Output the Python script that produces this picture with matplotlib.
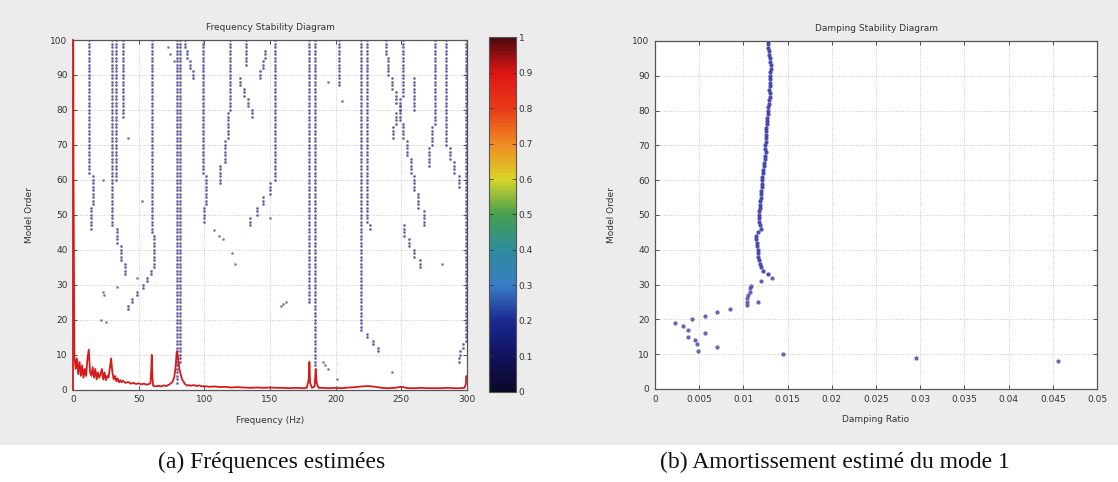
import numpy as np
import matplotlib.pyplot as plt
from matplotlib.cm import ScalarMappable
from matplotlib.colors import Normalize, LinearSegmentedColormap
from matplotlib.patches import Rectangle

# ---- left: frequency stabilisation diagram ----
# each track: segments (order_from, order_to, frequency in Hz)
freq_tracks = [
    [(62, 100, 12.5), (53, 61, 15.5), (46, 52, 13.5)],
    [(47, 100, 29.5)],
    [(60, 100, 32.5), (42, 46, 33.5), (37, 41, 36.5), (33, 36, 39.5)],
    [(78, 100, 38)],
    [(23, 24, 42), (25, 26, 45), (27, 28, 49), (29, 30, 53), (31, 32, 56),
     (33, 34, 59.5), (35, 44, 61.5), (45, 100, 60)],
    [(2, 100, 79.5)],
    [(8, 100, 81.2)],
    [(98, 100, 85), (95, 97, 87), (92, 94, 89), (89, 91, 91.5)],
    [(62, 100, 99), (53, 61, 101.5), (48, 52, 99.5)],
    [(80, 100, 119.5), (72, 79, 118), (65, 71, 115.5), (59, 64, 112)],
    [(87, 89, 127), (84, 86, 130), (81, 83, 133), (78, 80, 136.5)],
    [(93, 100, 132)],
    [(95, 97, 146), (92, 94, 144.5), (89, 91, 142.5)],
    [(60, 100, 153.5), (56, 59, 150), (53, 55, 145), (50, 52, 140), (47, 49, 135)],
    [(25, 100, 180)],
    [(7, 100, 184.5)],
    [(87, 100, 202.5)],
    [(17, 100, 219), (15, 16, 224), (13, 14, 228.5), (11, 12, 232.5)],
    [(48, 100, 223.5), (46, 47, 226)],
    [(96, 100, 238), (90, 95, 240), (86, 89, 243), (82, 85, 246), (77, 81, 249),
     (72, 76, 251), (67, 71, 254), (62, 66, 257), (57, 61, 260), (52, 56, 263),
     (47, 51, 267)],
    [(84, 100, 251.5), (80, 83, 249), (76, 79, 246), (72, 75, 244)],
    [(80, 89, 260)],
    [(44, 47, 252), (41, 43, 256), (38, 40, 260), (35, 37, 264)],
    [(76, 100, 276), (70, 75, 273), (64, 69, 271)],
    [(70, 100, 284), (66, 69, 287), (62, 65, 290), (58, 61, 294)],
    [(14, 100, 299.5), (12, 13, 297), (10, 11, 295), (8, 9, 294)],
]
stray_f = [22.6, 41.7, 23, 23.5, 33.5, 21, 25, 48.5, 52.6, 72, 74, 77, 107, 111,
           114, 121, 123, 150, 158, 160, 162, 190, 192, 194, 201, 243, 281, 205, 194]
stray_o = [60, 72, 28, 27, 29.5, 20, 19.5, 32, 54, 98, 96, 94, 45.6, 44,
           43, 39, 36, 49, 24, 24.5, 25, 8, 7, 6, 3, 5, 36, 82.7, 88]

spec_f = [0, 0.4, 1, 2, 3, 4, 5, 6, 7, 8, 9, 10, 11, 12, 13, 14, 15, 16, 17, 18,
          19, 20, 21, 22, 23, 24, 25, 26, 27, 28, 29, 30, 31, 32, 33, 34, 35, 36,
          37, 38, 40, 42, 44, 46, 48, 50, 52, 54, 56, 58, 59, 59.6, 60, 60.4, 61,
          63, 65, 67, 69, 71, 73, 75, 76, 77, 78, 79, 80, 81, 82, 83, 84, 85, 86,
          87, 88, 90, 92, 94, 96, 98, 100, 104, 108, 112, 116, 120, 125, 130, 135,
          140, 145, 150, 155, 160, 165, 170, 175, 178, 179.5, 180, 180.5, 182, 184,
          184.8, 185.5, 187, 190, 195, 200, 205, 210, 215, 220, 225, 230, 235, 240,
          245, 250, 255, 260, 265, 270, 275, 280, 285, 290, 295, 298, 299, 299.6, 300]
spec_v = [140, 60, 10, 6, 9, 4.5, 8, 4, 7, 3.5, 6, 4, 9, 11.5, 5, 4, 6.5, 3.5, 6, 3,
          5, 3.5, 4.5, 6, 3, 5, 2.8, 4, 3.5, 6, 9, 5, 3, 4, 2.5, 3.3, 2.2, 2.8,
          2.2, 2.6, 2, 2.3, 1.8, 2, 1.7, 1.9, 1.6, 1.8, 1.5, 1.7, 2, 6, 10, 4, 1.2,
          1, 1.2, 1.0, 1.3, 1.1, 1.5, 2, 2.5, 3.5, 6, 11, 9.5, 6, 4.5, 3, 2.5, 1.8, 1.5,
          1.2, 1.4, 1.2, 1.4, 1.1, 1.3, 1.0, 1.1, 0.9, 1.0, 0.8, 0.9, 0.7, 0.8, 0.7, 0.6,
          0.7, 0.6, 0.7, 0.6, 0.6, 0.5, 0.6, 0.5, 0.6, 3, 8, 2, 0.6, 1,
          6, 2, 0.6, 0.6, 0.5, 0.6, 0.5, 0.7, 0.8, 1.0, 1.1, 0.9, 0.6, 0.5,
          0.6, 0.9, 0.5, 0.5, 0.6, 0.5, 0.5, 0.5, 0.6, 0.5, 0.5, 0.6, 1.5, 4, 3]

cbar_ticks = [0, 0.1, 0.2, 0.3, 0.4, 0.5, 0.6, 0.7, 0.8, 0.9, 1]
cbar_labels = ['0', '0.1', '0.2', '0.3', '0.4', '0.5', '0.6', '0.7', '0.8', '0.9', '1']

# ---- right: damping of mode 1 ----
damp_orders = list(range(33, 101))
damp_vals = [0.0128, 0.0122, 0.0120, 0.0119, 0.0118, 0.0117, 0.0116, 0.0116, 0.0115,
             0.0115, 0.0114, 0.0114, 0.0116, 0.0120, 0.0119, 0.0118, 0.0118, 0.0118,
             0.0118, 0.0119, 0.0119, 0.0119, 0.0120, 0.0120, 0.0120, 0.0121, 0.0121,
             0.0121, 0.0121, 0.0122, 0.0122, 0.0123, 0.0123, 0.0124, 0.0124, 0.0125,
             0.0124, 0.0124, 0.0125, 0.0125, 0.0126, 0.0126, 0.0126, 0.0127, 0.0127,
             0.0127, 0.0128, 0.0128, 0.0128, 0.0129, 0.0129, 0.0130, 0.0130, 0.0129,
             0.0130, 0.0130, 0.0130, 0.0130, 0.0130, 0.0131, 0.0131, 0.0130, 0.0130,
             0.0129, 0.0129, 0.0128, 0.0128, 0.0128]
low_damp = [0.0132, 0.0120, 0.0109, 0.0108, 0.0107, 0.0105, 0.0104, 0.0104, 0.0116,
            0.0104, 0.0085, 0.0070, 0.0057, 0.0042, 0.0023, 0.0032, 0.0037, 0.0056,
            0.0037, 0.0045, 0.0047, 0.0070, 0.0049, 0.0145, 0.0295, 0.0456]
low_orders = [32, 31, 29.5, 29, 28, 27, 26, 25, 25, 24, 23, 22, 21, 20, 19, 18, 17,
              16, 15, 14, 13, 12, 11, 10, 9, 8]

plt.rcParams['font.family'] = 'DejaVu Sans'
fig = plt.figure(figsize=(11.18, 4.82), dpi=100)
fig.patch.set_facecolor('white')
fig.patches.append(Rectangle((0, 0.077), 1, 0.923, transform=fig.transFigure,
                             facecolor='#ececec', edgecolor='none', zorder=-10))

# muted matlab-like jet, as it looks in the scanned figure
jet_soft = LinearSegmentedColormap.from_list('jet_soft', [
    (0.0, '#0a0a28'), (0.1, '#12125e'), (0.2, '#1a2a92'), (0.3, '#3a7cc4'),
    (0.4, '#2e8c9c'), (0.5, '#45a050'), (0.6, '#d8d428'), (0.7, '#f08a24'),
    (0.8, '#e83a18'), (0.9, '#e01414'), (1.0, '#4a0a10')])


def style_axes(ax):
    ax.set_facecolor('white')
    ax.tick_params(direction='in', top=True, right=True, length=3, width=0.6,
                   labelsize=6.5, colors='#333333', pad=4)
    for s in ax.spines.values():
        s.set_color('#555555')
        s.set_linewidth(0.9)
    ax.grid(True, linestyle=':', color='#bdbdbd', linewidth=0.6)
    ax.set_axisbelow(True)


ax1 = fig.add_axes([0.0653, 0.191, 0.3524, 0.726])
style_axes(ax1)
for track in freq_tracks:
    for o1, o2, f in track:
        orders = np.arange(o1, o2 + 1)
        ax1.plot(np.full(len(orders), f), orders, linestyle='none', marker='.',
                 markersize=2.1, color='#55559e', alpha=0.75)
ax1.plot(stray_f, stray_o, linestyle='none', marker='.', markersize=2.1,
         color='#6a6aa8', alpha=0.7)
ax1.plot(spec_f, spec_v, color='#d41a1a', linewidth=1.3, zorder=3)
ax1.spines['left'].set_color('#d41a1a')
ax1.spines['left'].set_linewidth(1.3)
ax1.set_xlim(0, 300)
ax1.set_ylim(0, 100)
ax1.set_xticks([0, 50, 100, 150, 200, 250, 300])
ax1.set_yticks(range(0, 101, 10))
ax1.set_title('Frequency Stability Diagram', fontsize=6.5, color='#333333', pad=7)
ax1.set_xlabel('Frequency (Hz)', fontsize=6.5, color='#333333', labelpad=8)
ax1.set_ylabel('Model Order', fontsize=6.5, color='#333333', labelpad=12)

cax = fig.add_axes([0.4374, 0.187, 0.0242, 0.736])
cb = fig.colorbar(ScalarMappable(norm=Normalize(0, 1), cmap=jet_soft), cax=cax)
cb.set_ticks(cbar_ticks)
cb.set_ticklabels(cbar_labels)
cax.tick_params(direction='in', left=True, right=True, length=3, width=0.6,
                labelsize=6.5, colors='#333333', pad=2)
cb.outline.set_edgecolor('#555555')
cb.outline.set_linewidth(0.8)

ax2 = fig.add_axes([0.5859, 0.193, 0.3953, 0.722])
style_axes(ax2)
ax2.plot(damp_vals, damp_orders, linestyle='none', marker='.', markersize=4.2,
         color='#3c3cb0', alpha=0.85)
ax2.plot(low_damp, low_orders, linestyle='none', marker='.', markersize=4.2,
         color='#5050b0', alpha=0.8)
ax2.set_xlim(0, 0.05)
ax2.set_ylim(0, 100)
ax2.set_xticks([0, 0.005, 0.01, 0.015, 0.02, 0.025, 0.03, 0.035, 0.04, 0.045, 0.05])
ax2.set_xticklabels(['0', '0.005', '0.01', '0.015', '0.02', '0.025', '0.03',
                     '0.035', '0.04', '0.045', '0.05'])
ax2.set_yticks(range(0, 101, 10))
ax2.set_title('Damping Stability Diagram', fontsize=6.5, color='#333333', pad=7)
ax2.set_xlabel('Damping Ratio', fontsize=6.5, color='#333333', labelpad=8)
ax2.set_ylabel('Model Order', fontsize=6.5, color='#333333', labelpad=12)

fig.text(0.243, 0.041, '(a) Fréquences estimées', family='Liberation Serif',
         fontsize=17, ha='center', va='center', color='#111111')
fig.text(0.747, 0.041, '(b) Amortissement estimé du mode 1', family='Liberation Serif',
         fontsize=17, ha='center', va='center', color='#111111')

fig.savefig('out.png', dpi=100, facecolor=fig.get_facecolor())
